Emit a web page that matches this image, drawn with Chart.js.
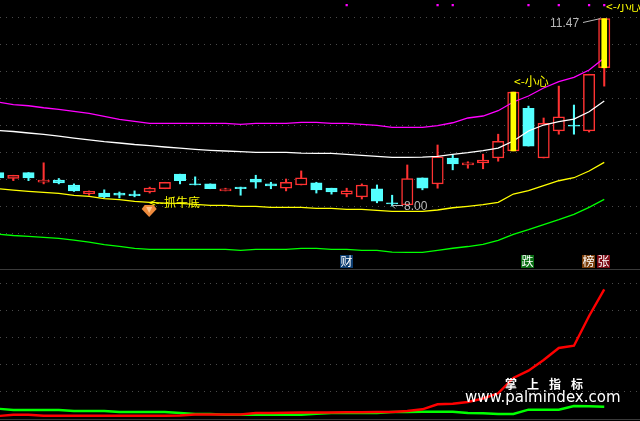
<!DOCTYPE html>
<html>
<head>
<meta charset="utf-8">
<script src="https://cdn.jsdelivr.net/npm/chart.js@4"></script>
<style>
html, body { margin: 0; padding: 0; background: #000; overflow: hidden; }
canvas { display: block; }
</style>
</head>
<body>
<canvas id="klineChart" width="640" height="421"></canvas>
<script>
// daily candles
const days = [0,1,2,3,4,5,6,7,8,9,10,11,12,13,14,15,16,17,18,19,20,21,22,23,24,25,26,27,28,29,30,31,32,33,34,35,36,37,38,39,40];
const opens = [8.62,8.51,8.62,8.44,8.48,8.39,8.23,8.24,8.24,8.22,8.26,8.32,8.59,8.41,8.41,8.28,8.35,8.50,8.41,8.33,8.39,8.43,8.33,8.22,8.17,8.32,8.06,8.02,8.52,8.41,8.89,8.76,8.80,8.89,9.02,9.81,8.89,9.39,9.50,9.39,10.56];
const closes = [8.52,8.57,8.52,8.48,8.43,8.28,8.27,8.17,8.20,8.19,8.33,8.44,8.47,8.39,8.32,8.32,8.32,8.44,8.37,8.44,8.52,8.30,8.26,8.28,8.39,8.09,8.04,8.51,8.33,8.91,8.78,8.80,8.85,9.20,10.11,9.11,9.53,9.65,9.48,10.44,11.47];
const highs = [8.62,8.57,8.62,8.80,8.51,8.41,8.28,8.30,8.26,8.28,8.35,8.44,8.59,8.54,8.41,8.33,8.35,8.57,8.44,8.50,8.65,8.44,8.33,8.33,8.41,8.39,8.20,8.76,8.52,9.13,8.94,8.82,8.96,9.33,10.11,9.85,9.63,10.22,9.87,10.44,11.47];
const lows = [8.52,8.47,8.47,8.41,8.41,8.27,8.20,8.15,8.15,8.17,8.24,8.32,8.41,8.39,8.32,8.28,8.20,8.33,8.32,8.28,8.39,8.24,8.22,8.17,8.13,8.06,8.00,8.02,8.30,8.33,8.67,8.70,8.69,8.83,9.02,9.11,8.89,9.33,9.33,9.37,10.22];

// band lines
const upperBand = [9.926,9.876,9.857,9.82,9.79,9.753,9.717,9.661,9.606,9.569,9.532,9.532,9.532,9.532,9.532,9.532,9.513,9.532,9.532,9.532,9.55,9.55,9.532,9.532,9.513,9.495,9.458,9.458,9.458,9.487,9.542,9.63,9.667,9.765,9.926,10.037,10.185,10.302,10.383,10.519,10.741];
const midBand = [9.398,9.38,9.352,9.328,9.296,9.259,9.226,9.191,9.167,9.139,9.12,9.093,9.071,9.05,9.032,9.019,9.009,8.994,8.994,8.994,8.981,8.976,8.976,8.957,8.939,8.92,8.902,8.902,8.907,8.92,8.957,8.987,9.024,9.074,9.204,9.389,9.5,9.561,9.611,9.746,9.944];
const lowerBand = [8.32,8.296,8.272,8.254,8.235,8.198,8.18,8.135,8.117,8.087,8.068,8.055,8.05,8.031,8.013,8.013,7.994,7.994,7.976,7.976,7.976,7.957,7.957,7.939,7.939,7.92,7.902,7.902,7.902,7.926,7.968,7.994,8.024,8.068,8.222,8.283,8.376,8.468,8.524,8.648,8.809];
const floorBand = [7.478,7.454,7.439,7.42,7.402,7.37,7.333,7.287,7.254,7.217,7.198,7.198,7.198,7.198,7.198,7.198,7.18,7.198,7.198,7.198,7.217,7.217,7.198,7.198,7.18,7.18,7.148,7.143,7.143,7.18,7.218,7.25,7.291,7.365,7.476,7.561,7.654,7.746,7.846,7.976,8.124];

// lower panel indicator
const redLine = [1.7,2.67,2.67,1.93,1.93,1.93,1.93,1.93,1.93,1.93,1.93,1.93,2.07,2.81,2.81,2.81,2.81,3.93,3.93,4.15,4.3,4.3,4.3,4.44,4.44,4.67,4.67,5.41,6.67,10.37,10.74,12.07,14.67,18.52,29.85,35.26,43.19,52.07,53.78,75.78,95.56];
const greenLine = [7.11,6.15,6.15,6.15,6.15,5.41,5.41,5.41,4.67,4.67,4.67,4.67,3.93,3.19,3.19,2.67,2.67,2.67,2.67,2.67,2.67,3.41,3.93,3.93,3.93,3.93,4.67,4.67,4.89,4.89,4.89,3.93,3.7,3.19,3.19,6.37,6.37,6.37,9.11,8.89,8.59];

const priceTicks = [11.5,11,10.5,10,9.5,9,8.5,8,7.5];
const indicatorTicks = [100,80,60,40,20];
const alertDays = [34,40];
const signalDays = [23,29,30,35,37,39,40];
const signalPrice = 11.72;

const RED = '#ff3232';
const CYAN = '#54ffff';

function isUp(i) { return closes[i] >= opens[i]; }

const annotationPlugin = {
    id: 'annotations',
    afterDatasetsDraw(chart) {
        const ctx = chart.ctx;
        const x = chart.scales.x;
        const y = chart.scales.y;
        ctx.save();

        // panel separators
        ctx.fillStyle = '#3a3a3a';
        ctx.fillRect(0, 269, 640, 1);
        ctx.fillRect(0, 419, 640, 1);

        ctx.textBaseline = 'middle';
        ctx.textAlign = 'left';

        // yellow tags
        ctx.font = '12px "Noto Sans CJK SC"';
        ctx.fillStyle = '#ffff00';
        ctx.fillText('<--抓牛底', 149, 202);
        ctx.fillText('<-小心', 514, 81);
        ctx.save();
        ctx.beginPath();
        ctx.rect(600, 4, 40, 20);
        ctx.clip();
        ctx.fillText('<-小心', 606, 6);
        ctx.restore();

        // gem marker under the bottom signal
        const gx = x.getPixelForValue(10) - 0.5;
        ctx.fillStyle = '#ee8a3c';
        ctx.beginPath();
        ctx.moveTo(gx - 4.5, 205);
        ctx.lineTo(gx + 4.5, 205);
        ctx.lineTo(gx + 7.5, 209);
        ctx.lineTo(gx, 217);
        ctx.lineTo(gx - 7.5, 209);
        ctx.closePath();
        ctx.fill();
        ctx.fillStyle = '#ffc690';
        ctx.beginPath();
        ctx.moveTo(gx - 3, 207);
        ctx.lineTo(gx + 3, 207);
        ctx.lineTo(gx, 213);
        ctx.closePath();
        ctx.fill();

        // high and low price labels
        ctx.font = '12px "Liberation Sans"';
        ctx.fillStyle = '#b8b8b8';
        ctx.fillText(highs[40].toFixed(2), 550, 24);
        ctx.fillText(lows[26].toFixed(2), 404, 207);
        ctx.strokeStyle = '#b8b8b8';
        ctx.lineWidth = 1;
        ctx.beginPath();
        ctx.moveTo(583, 22.5);
        ctx.lineTo(x.getPixelForValue(40) - 4, y.getPixelForValue(highs[40]));
        ctx.moveTo(x.getPixelForValue(26), 205.5);
        ctx.lineTo(403, 205.5);
        ctx.moveTo(x.getPixelForValue(26), 205.5);
        ctx.lineTo(x.getPixelForValue(26) + 3, 208.5);
        ctx.stroke();

        // event boxes
        const boxes = [
            ['财', 23, '#0b3c70'],
            ['跌', 35, '#0a6e14'],
            ['榜', 39, '#7a3d0a'],
            ['张', 40, '#7a0a14']
        ];
        ctx.font = '12px "Noto Sans CJK SC"';
        ctx.textAlign = 'center';
        boxes.forEach(function(b) {
            const cx = Math.round(x.getPixelForValue(b[1]));
            ctx.fillStyle = b[2];
            ctx.fillRect(cx - 7, 255, 13, 13);
            ctx.fillStyle = '#ffffff';
            ctx.fillText(b[0], cx - 0.5, 261.5);
        });

        // watermark
        ctx.fillStyle = '#ffffff';
        ctx.font = 'bold 12px "Noto Sans CJK SC"';
        ['掌', '上', '指', '标'].forEach(function(ch, i) {
            ctx.fillText(ch, 511 + i * 22, 384);
        });
        ctx.textAlign = 'left';
        ctx.font = '15px "DejaVu Sans"';
        ctx.fillText('www.palmindex.com', 465, 398, 159);

        ctx.restore();
    }
};

function lineSet(values, color, axis, width) {
    return {
        type: 'line',
        data: days.map(function(d, i) { return { x: d, y: values[i] }; }),
        borderColor: color,
        borderWidth: width,
        pointRadius: 0,
        tension: 0,
        yAxisID: axis,
        order: 2
    };
}

function barSet(data, colors, fills, thickness, order) {
    return {
        type: 'bar',
        data: data,
        backgroundColor: fills,
        borderColor: colors,
        borderWidth: 0,
        barThickness: thickness,
        grouped: false,
        yAxisID: 'y',
        order: order
    };
}

const wicks = barSet(
    days.map(function(d, i) { return { x: d, y: [lows[i], highs[i]] }; }),
    days.map(function(d, i) { return isUp(i) ? RED : CYAN; }),
    days.map(function(d, i) { return isUp(i) ? RED : CYAN; }),
    1.4, 5);

const bodies = barSet(
    days.map(function(d, i) { return { x: d, y: [opens[i], closes[i]] }; }),
    days.map(function(d, i) { return isUp(i) ? RED : CYAN; }),
    days.map(function(d, i) { return isUp(i) ? '#000000' : CYAN; }),
    11.4, 4);
bodies.borderWidth = 1.5;
bodies.borderSkipped = false;

const alerts = barSet(
    alertDays.map(function(d) { return { x: d, y: [opens[d], closes[d]] }; }),
    '#ffff00', '#ffff00', 5, 1);

new Chart(document.getElementById('klineChart').getContext('2d'), {
    type: 'bar',
    data: {
        datasets: [
            wicks,
            bodies,
            lineSet(upperBand, '#ff00ff', 'y', 1.3),
            lineSet(midBand, '#ffffff', 'y', 1.3),
            lineSet(lowerBand, '#ffff00', 'y', 1.3),
            lineSet(floorBand, '#00ff00', 'y', 1.3),
            lineSet(redLine, '#ff0000', 'y2', 2.4),
            lineSet(greenLine, '#00ff00', 'y2', 2.4),
            alerts,
            {
                type: 'line',
                data: signalDays.map(function(d) { return { x: d, y: signalPrice }; }),
                showLine: false,
                pointStyle: 'rect',
                pointRadius: 1.6,
                backgroundColor: '#ff00ff',
                borderColor: '#ff00ff',
                borderWidth: 0,
                yAxisID: 'y',
                order: 2
            }
        ]
    },
    options: {
        responsive: false,
        animation: false,
        devicePixelRatio: 1,
        layout: { padding: 0, autoPadding: false },
        plugins: { legend: { display: false }, tooltip: { enabled: false } },
        scales: {
            x: { type: 'linear', display: false, offset: false, min: 0.119, max: 42.36 },
            y: {
                position: 'left',
                min: 4.019,
                max: 11.815,
                ticks: { display: false },
                border: { display: false, dash: [1, 5] },
                grid: { color: '#4a4a4a', drawTicks: false },
                afterBuildTicks: function(axis) {
                    axis.ticks = priceTicks.map(function(v) { return { value: v }; });
                }
            },
            y2: {
                position: 'left',
                min: -2,
                max: 309.85,
                ticks: { display: false },
                border: { display: false, dash: [1, 5] },
                grid: { color: '#4a4a4a', drawTicks: false },
                afterBuildTicks: function(axis) {
                    axis.ticks = indicatorTicks.map(function(v) { return { value: v }; });
                }
            }
        }
    },
    plugins: [annotationPlugin]
});
</script>
</body>
</html>
